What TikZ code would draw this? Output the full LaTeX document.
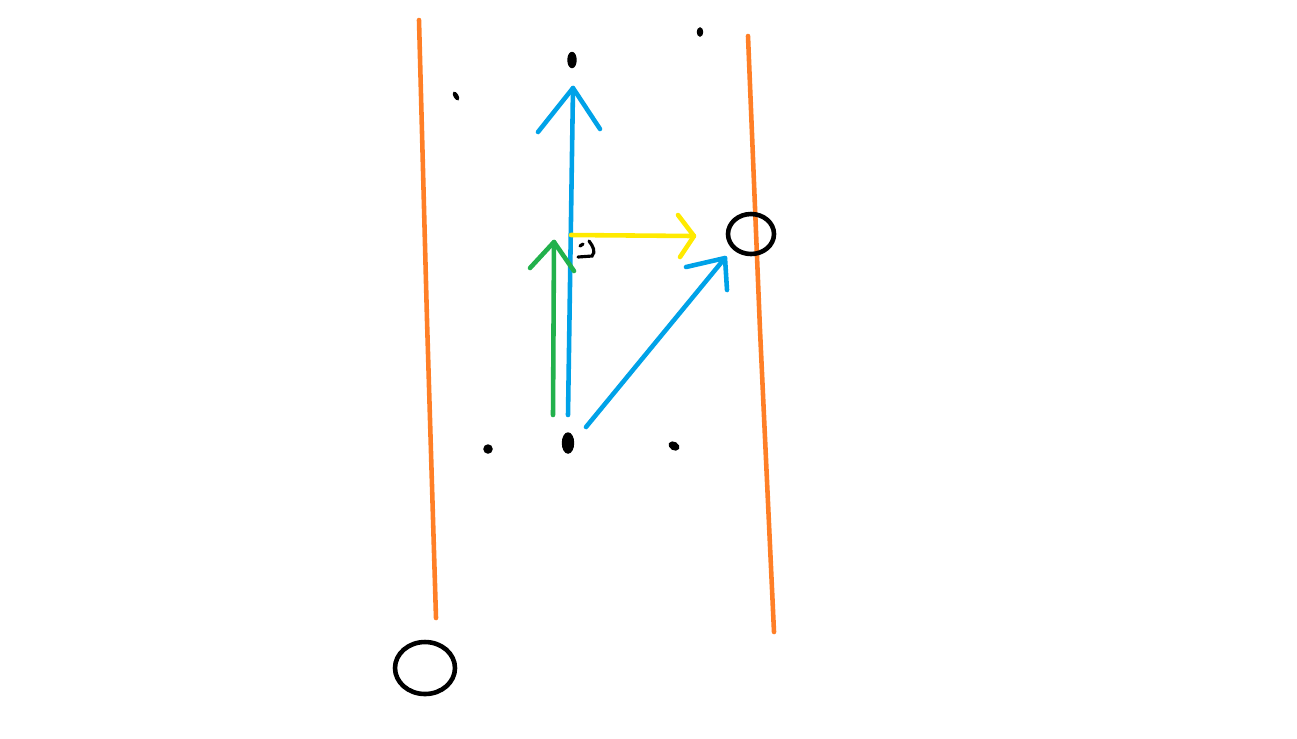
\documentclass[tikz,border=0pt]{standalone}
\usepackage{tikz}
\usetikzlibrary{shapes.geometric}
\tikzset{
  stroke/.style={
    line width=1.3pt,
    line cap=round,
    line join=round
  },
  wall/.style={
    stroke,
    draw={rgb,255:red,255;green,127;blue,39}
  },
  blob/.style={
    shape = ellipse,
    draw,
    fill,
    inner sep = 0pt
  },
  ring/.style={
    stroke,
    black
  }
}
\definecolor{skyblue}{RGB}{0,162,232}
\definecolor{grassgreen}{RGB}{34,177,76}
\definecolor{lemon}{RGB}{255,234,0}

\begin{document}
\begin{tikzpicture}[x=0.01cm,y=-0.01cm]
            \useasboundingbox (0,0) rectangle (1297,738);
            % walls
            \coordinate (lw1) at (419,20);
            \coordinate (lw2) at (427,320);
            \coordinate (lw3) at (436,618);
            \coordinate (rw1) at (748,36);
            \coordinate (rw2) at (760,330);
            \coordinate (rw3) at (774,632);
            \draw[wall] (lw1) -- (lw2) -- (lw3);
            \draw[wall] (rw1) -- (rw2) -- (rw3);
            % rings
            \draw[ring] (425,668) ellipse [x radius=30, y radius=26];
            \draw[ring] (751,234) ellipse [x radius=23, y radius=20];
            % dots
            \node[blob,minimum width=0.08cm,minimum height=0.15cm] (top) at (572,60) {};
            \node[blob,minimum width=0.05cm,minimum height=0.08cm] (d1) at (700,32) {};
            \node[blob,minimum width=0.035cm,minimum height=0.08cm,rotate=30] (d2) at (456,96) {};
            \node[blob,minimum size=0.08cm] (d3) at (488,449) {};
            \node[blob,minimum width=0.11cm,minimum height=0.2cm] (origin) at (568,443) {};
            \node[blob,minimum width=0.1cm,minimum height=0.07cm,rotate=-30] (d4) at (674,446) {};
            % scribble
            \draw[line width=0.9pt,line cap=round] (580,246) -- (583,244) (589,241) .. controls (593,246) and (596,252) .. (592,256) -- (578,257);
            % arrows
            \coordinate (b0) at (568,415);
            \coordinate (bt) at (573,88);
            \draw[stroke,skyblue] (b0) -- (bt);
            \draw[stroke,skyblue] (538,132) -- (bt) -- (600,129);
            \coordinate (c0) at (586,427);
            \coordinate (ct) at (725,258);
            \draw[stroke,skyblue] (c0) -- (ct);
            \draw[stroke,skyblue] (686,267) -- (ct) -- (727,290);
            \coordinate (g0) at (553,415);
            \coordinate (gt) at (554,242);
            \draw[stroke,grassgreen] (g0) -- (gt);
            \draw[stroke,grassgreen] (530,268) -- (gt) -- (574,271);
            \coordinate (y0) at (571,235);
            \coordinate (yt) at (694,236);
            \draw[stroke,lemon] (y0) -- (yt);
            \draw[stroke,lemon] (678,215) -- (yt) -- (680,257);
        \end{tikzpicture}
\end{document}
